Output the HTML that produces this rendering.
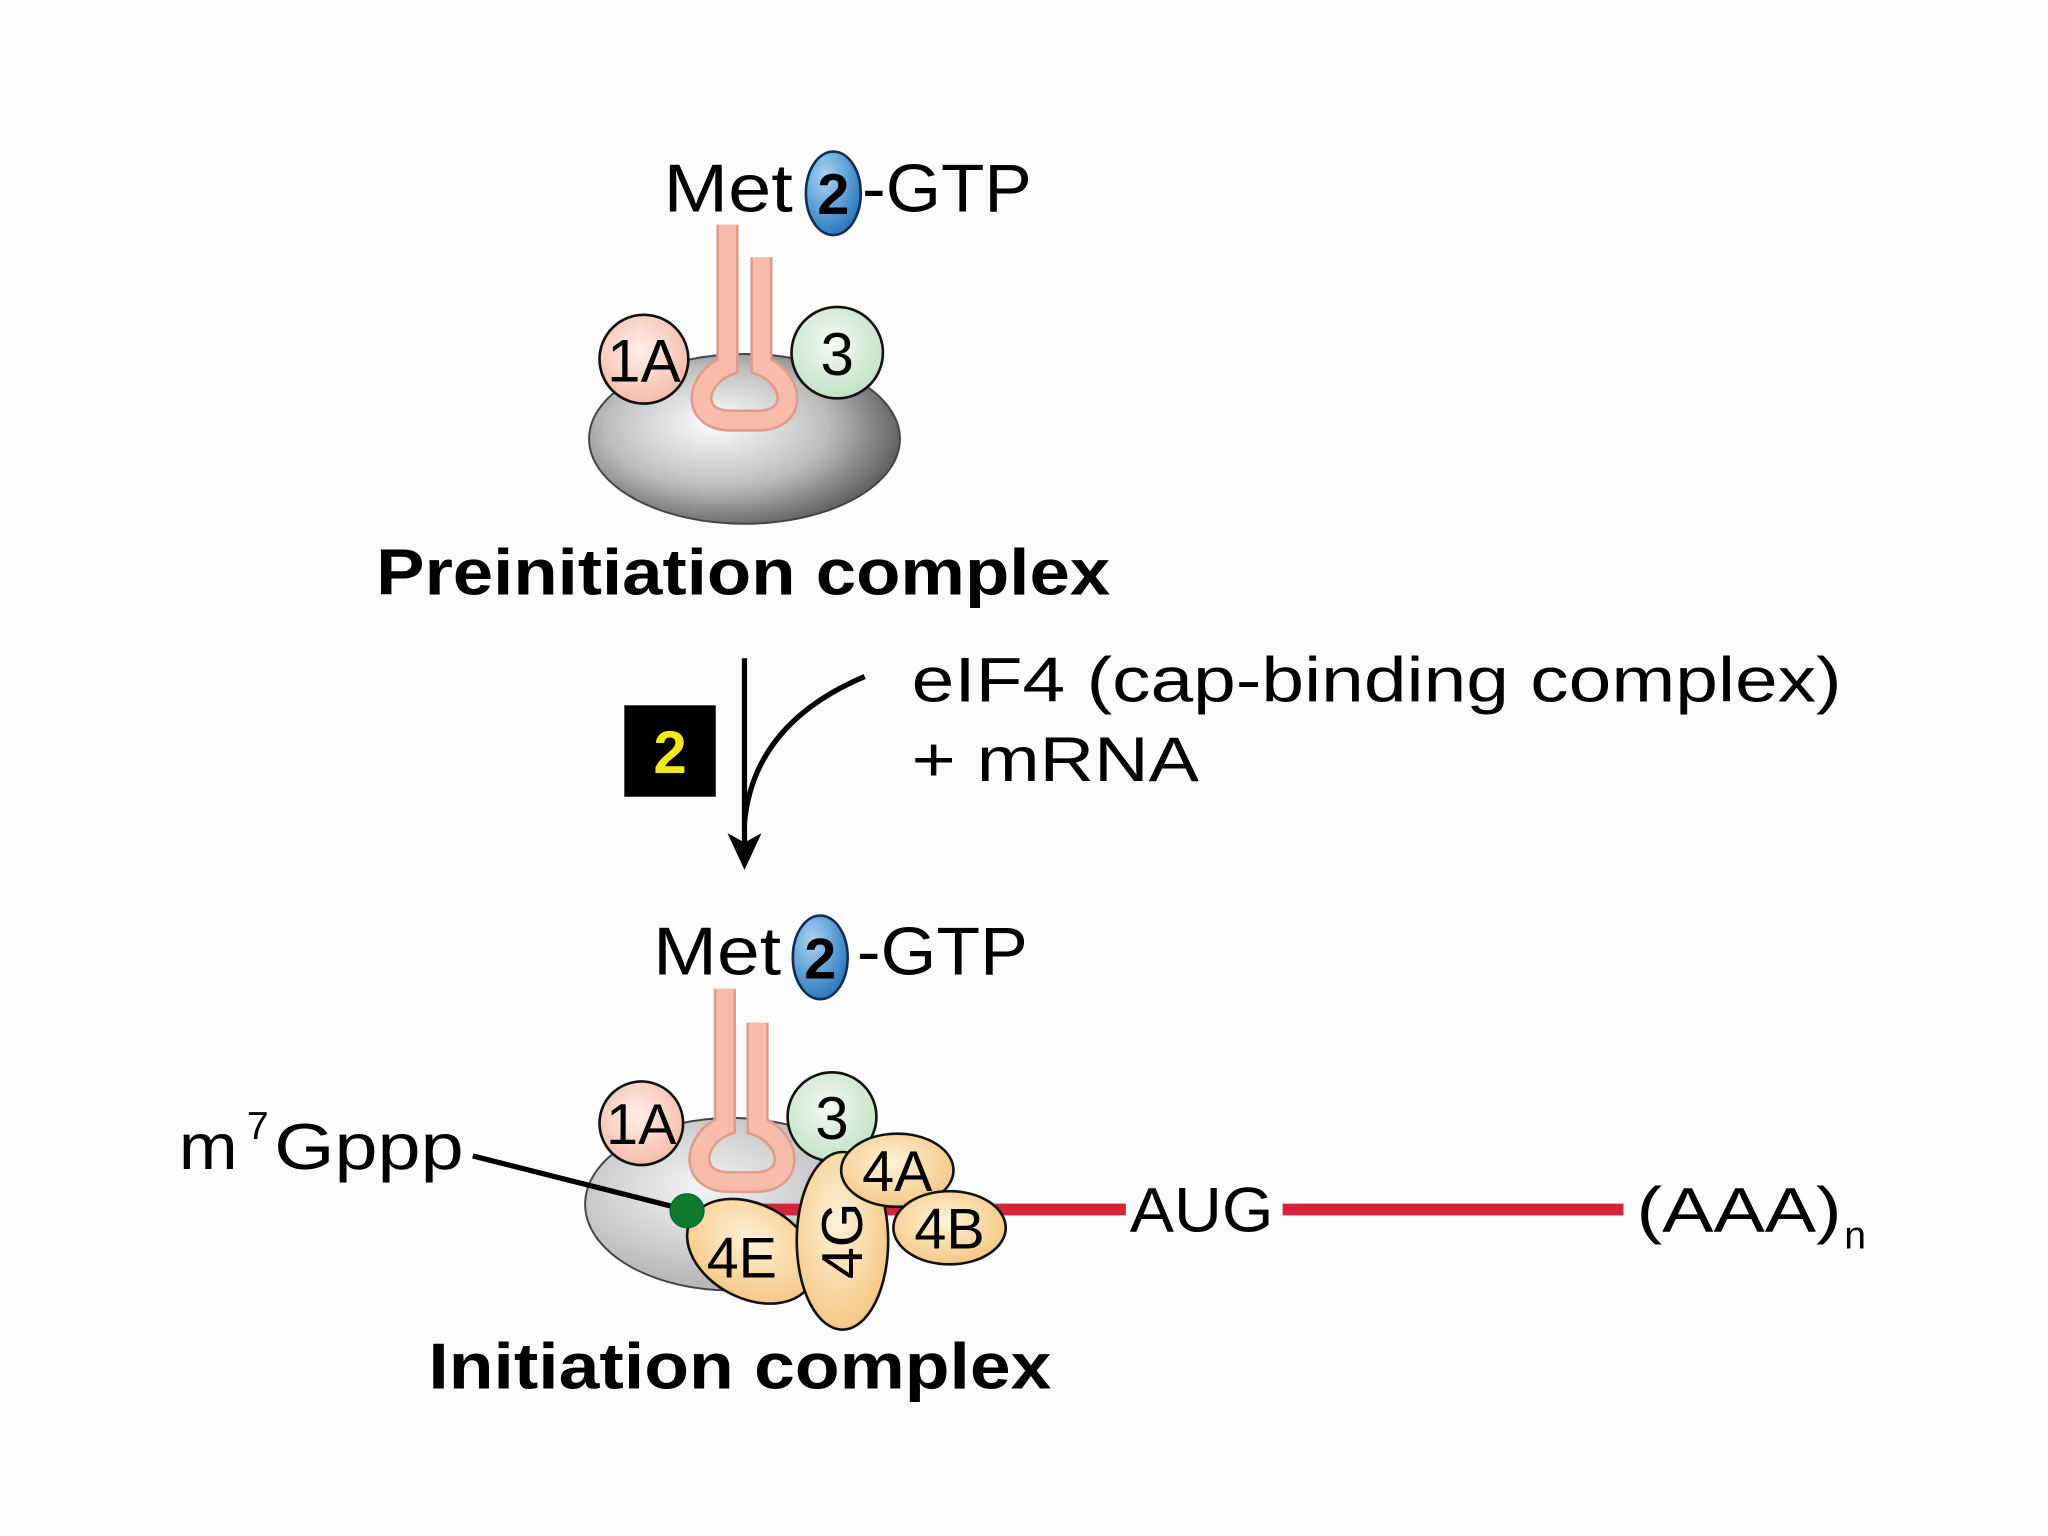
<!DOCTYPE html>
<html><head><meta charset="utf-8"><style>html,body{margin:0;padding:0;background:#fdfcfd;}svg{display:block}</style></head>
<body>
<svg width="2048" height="1536" viewBox="0 0 1568 1176" xmlns="http://www.w3.org/2000/svg" font-family="Liberation Sans, Arial, sans-serif">
<defs>
<radialGradient id="rib" cx="0.42" cy="0.45" r="0.65" fx="0.4" fy="0.4">
<stop offset="0" stop-color="#ffffff"/><stop offset="0.55" stop-color="#bdbdbd"/><stop offset="1" stop-color="#4a4a4a"/></radialGradient>
<radialGradient id="rib2" cx="0.4" cy="0.4" r="0.7"><stop offset="0" stop-color="#f5f5f5"/><stop offset="1" stop-color="#a8a8a8"/></radialGradient>
<radialGradient id="blue" cx="0.35" cy="0.3" r="0.8"><stop offset="0" stop-color="#a9d4f5"/><stop offset="1" stop-color="#1c6fb8"/></radialGradient>
<radialGradient id="pink" cx="0.45" cy="0.4" r="0.7"><stop offset="0" stop-color="#fff0ea"/><stop offset="1" stop-color="#f3b3a0"/></radialGradient>
<radialGradient id="green" cx="0.45" cy="0.4" r="0.7"><stop offset="0" stop-color="#f4fbf4"/><stop offset="1" stop-color="#b9dfbc"/></radialGradient>
<radialGradient id="orange" cx="0.45" cy="0.4" r="0.7"><stop offset="0" stop-color="#fff3d8"/><stop offset="1" stop-color="#f3c077"/></radialGradient>
</defs>
<rect width="1568" height="1176" fill="#fdfcfd"/>

<!-- TOP -->
<text x="508" y="162" font-size="52" textLength="99" lengthAdjust="spacingAndGlyphs">Met</text>
<ellipse cx="638" cy="148" rx="21" ry="32" fill="url(#blue)" stroke="#0d2f55" stroke-width="2"/>
<text x="638" y="164" font-size="44" font-weight="bold" text-anchor="middle">2</text>
<text x="660" y="162" font-size="52" textLength="130" lengthAdjust="spacingAndGlyphs">-GTP</text>

<ellipse cx="570" cy="336" rx="119" ry="65" fill="url(#rib)" stroke="#444" stroke-width="1.5"/>
<g fill="none">
<path d="M557 172 V280 C532 290 528 322 560 322 H580 C612 322 608 290 583 280 V197" stroke="#e09c88" stroke-width="17"/>
<path d="M557 172 V280 C532 290 528 322 560 322 H580 C612 322 608 290 583 280 V197" stroke="#f8bdaa" stroke-width="13"/>
</g>
<circle cx="493" cy="275" r="34" fill="url(#pink)" stroke="#111" stroke-width="2"/>
<text x="493" y="292" font-size="46" text-anchor="middle">1A</text>
<circle cx="641" cy="270" r="35" fill="url(#green)" stroke="#111" stroke-width="2"/>
<text x="641" y="287" font-size="46" text-anchor="middle">3</text>
<text x="288" y="455" font-size="50" font-weight="bold" textLength="562" lengthAdjust="spacingAndGlyphs">Preinitiation complex</text>

<!-- arrow -->
<line x1="570" y1="504" x2="570" y2="645" stroke="#000" stroke-width="4"/>
<path d="M662 518 C610 540 575 575 570 630" fill="none" stroke="#000" stroke-width="4"/>
<path d="M557 638 L570 666 L583 638 L570 645 Z" fill="#000"/>
<rect x="478" y="540" width="70" height="70" fill="#000"/>
<text x="513" y="592" font-size="46" font-weight="bold" fill="#f5e818" text-anchor="middle">2</text>
<text x="698" y="537" font-size="48" textLength="712" lengthAdjust="spacingAndGlyphs">eIF4 (cap-binding complex)</text>
<text x="698" y="598" font-size="48" textLength="220" lengthAdjust="spacingAndGlyphs">+ mRNA</text>

<!-- BOTTOM -->
<text x="500" y="746" font-size="52" textLength="98" lengthAdjust="spacingAndGlyphs">Met</text>
<ellipse cx="628" cy="733" rx="21" ry="32" fill="url(#blue)" stroke="#0d2f55" stroke-width="2"/>
<text x="628" y="749" font-size="44" font-weight="bold" text-anchor="middle">2</text>
<text x="656" y="746" font-size="52" textLength="131" lengthAdjust="spacingAndGlyphs">-GTP</text>

<ellipse cx="560" cy="922" rx="112" ry="66" fill="url(#rib2)" stroke="#444" stroke-width="1.5"/>
<g fill="none">
<path d="M555 757 V862 C530 872 527 905 558 905 H578 C610 905 606 872 580 862 V783" stroke="#e09c88" stroke-width="17"/>
<path d="M555 757 V862 C530 872 527 905 558 905 H578 C610 905 606 872 580 862 V783" stroke="#f8bdaa" stroke-width="13"/>
</g>
<circle cx="491" cy="860" r="32" fill="url(#pink)" stroke="#111" stroke-width="2"/>
<text x="491" y="876" font-size="44" text-anchor="middle">1A</text>
<circle cx="637" cy="855" r="34" fill="url(#green)" stroke="#111" stroke-width="2"/>
<text x="637" y="872" font-size="46" text-anchor="middle">3</text>

<line x1="560" y1="926" x2="862" y2="926" stroke="#d8233a" stroke-width="9"/>
<text x="865" y="943" font-size="48" textLength="110" lengthAdjust="spacingAndGlyphs">AUG</text>
<line x1="982" y1="926" x2="1243" y2="926" stroke="#d8233a" stroke-width="9"/>
<text x="1253" y="943" font-size="48" textLength="157" lengthAdjust="spacingAndGlyphs">(AAA)</text>
<text x="1412" y="956" font-size="30">n</text>

<ellipse cx="575" cy="958" rx="52" ry="36" transform="rotate(28 575 958)" fill="url(#orange)" stroke="#111" stroke-width="2"/>
<text x="568" y="978" font-size="44" text-anchor="middle">4E</text>
<ellipse cx="645" cy="950" rx="35" ry="68" fill="url(#orange)" stroke="#111" stroke-width="2"/>
<text transform="translate(660 950) rotate(-90)" font-size="44" text-anchor="middle">4G</text>
<ellipse cx="687" cy="896" rx="43" ry="28" fill="url(#orange)" stroke="#111" stroke-width="2"/>
<text x="687" y="912" font-size="44" text-anchor="middle">4A</text>
<ellipse cx="727" cy="940" rx="43" ry="28" fill="url(#orange)" stroke="#111" stroke-width="2"/>
<text x="727" y="956" font-size="44" text-anchor="middle">4B</text>

<line x1="362" y1="885" x2="520" y2="925" stroke="#000" stroke-width="4"/>
<circle cx="526" cy="927" r="13" fill="#0d7a2c" stroke="#064" stroke-width="1"/>
<text x="137" y="895" font-size="50" textLength="45" lengthAdjust="spacingAndGlyphs">m</text>
<text x="189" y="872" font-size="30">7</text>
<text x="210" y="895" font-size="50" textLength="145" lengthAdjust="spacingAndGlyphs">Gppp</text>

<text x="328" y="1063" font-size="50" font-weight="bold" textLength="477" lengthAdjust="spacingAndGlyphs">Initiation complex</text>
</svg>
</body></html>
